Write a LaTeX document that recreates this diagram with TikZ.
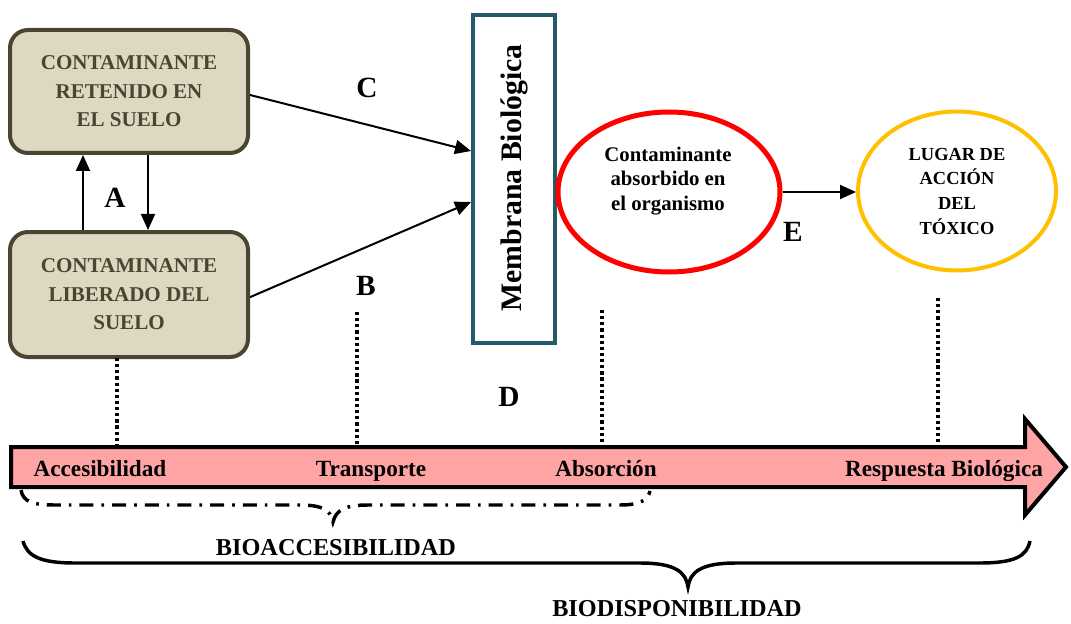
\documentclass[tikz,border=0pt]{standalone}
\usepackage{fontspec}
\setmainfont{Liberation Serif}
\usetikzlibrary{shapes.geometric,arrows.meta}
\definecolor{soilfill}{HTML}{DDD8C2}
\definecolor{soilline}{HTML}{4A4430}
\definecolor{membline}{HTML}{245A69}
\definecolor{tiltpink}{HTML}{FFA4A4}
\definecolor{sitegold}{HTML}{FFC000}
\newcommand{\fs}[2]{\fontsize{#1}{#2}\selectfont\bfseries}
\begin{document}
\begin{tikzpicture}[x=0.75pt,y=-0.75pt,
  soilbox/.style={draw=soilline,line width=3pt,fill=soilfill,rounded corners=13.5pt,
    minimum width=178.5pt,align=center,text=soilline,font=\fs{15.8}{21.4}},
  arr/.style={line width=1.5pt,-{Triangle[length=12pt,width=10.5pt]}},
  letter/.style={font=\fs{22}{26}},
  stage/.style={font=\fs{17.4}{20},anchor=base},
  dots/.style={line width=2.4pt,dash pattern=on 2.4pt off 2.2pt},
  caption/.style={font=\fs{18.2}{20}}]
\useasboundingbox (0,0) rectangle (1071,624);

% soil compartments
\node[soilbox,minimum height=92.25pt] (ret) at (129,91.5)
  {CONTAMINANTE\\RETENIDO EN\\EL SUELO};
\node[soilbox,minimum height=93.75pt] (lib) at (129,294.5)
  {CONTAMINANTE\\LIBERADO DEL\\SUELO};

% biological membrane
\node[draw=membline,line width=3pt,minimum width=61.5pt,minimum height=246pt,inner sep=0pt]
  (mem) at (514,179) {};
\node[rotate=90,font=\fs{22.3}{26}] (memtext) at (514,178) {Membrana Biológica};

% absorbed contaminant and site of action
\node[ellipse,draw=red,line width=3.75pt,minimum width=166.5pt,minimum height=120pt,inner sep=0pt]
  (abs) at (669,192) {};
\node[align=center,font=\fs{15.6}{18.4}] (abstext) at (668,181)
  {Contaminante\\absorbido en\\el organismo};
\node[ellipse,draw=sitegold,line width=3pt,minimum width=148.5pt,minimum height=119.25pt,
  inner sep=0pt,align=center,font=\fs{13.8}{18.5}] (site) at (957,191)
  {LUGAR DE\\ACCIÓN\\DEL\\TÓXICO};

% exchanges between compartments
\draw[arr] ([xshift=-34.5pt]lib.north) -- ([xshift=-34.5pt]ret.south);
\draw[arr] ([xshift=14.25pt]ret.south) -- ([xshift=14.25pt]lib.north);
\draw[arr] ([yshift=-2.6pt]ret.east) -- ([yshift=21pt]mem.west);
\draw[arr] ([yshift=-2pt]lib.east) -- ([yshift=-17.25pt]mem.west);
\draw[arr] (abs.east) -- (abs.east -| site.west);

\node[letter] (la) at (115,198) {A};
\node[letter] (lb) at (366,286) {B};
\node[letter] (lc) at (367,88) {C};
\node[letter] (ld) at (509,397) {D};
\node[letter] (le) at (793,232) {E};

% process arrow
\draw[line width=3pt,fill=tiltpink,line join=miter]
  (11,447) -- (1025,447) -- (1025,419) -- (1066,467) -- (1025,515) -- (1025,487) -- (11,487) -- cycle;
\node[stage] (acc) at (100,476) {Accesibilidad};
\node[stage] (tra) at (371,476) {Transporte};
\node[stage] (absn) at (606,476) {Absorción};
\node[stage] (res) at (944,476) {Respuesta Biológica};

% guide lines to the stages
\coordinate (g1a) at (117,358); \coordinate (g1b) at (117,445);
\coordinate (g2a) at (357,312); \coordinate (g2b) at (357,445);
\coordinate (g3a) at (602,310); \coordinate (g3b) at (602,445);
\coordinate (g4a) at (938,298); \coordinate (g4b) at (938,445);
\draw[dots] (g1a) -- (g1b);
\draw[dots] (g2a) -- (g2b);
\draw[dots] (g3a) -- (g3b);
\draw[dots] (g4a) -- (g4b);

% braces
\draw[line width=2.6pt,dash pattern=on 10.5pt off 6pt on 2pt off 6pt]
  (21,490) .. controls (23,502) and (33,505) .. (55,505) -- (300,505)
  .. controls (322,505) and (331,510) .. (333,522)
  .. controls (336,510) and (345,505) .. (368,505) -- (620,505)
  .. controls (640,505) and (648,500) .. (650,491);
\node[caption] (bioacc) at (336,548) {BIOACCESIBILIDAD};

\draw[line width=2.6pt]
  (23,541) .. controls (27,556) and (40,563) .. (75,563) -- (640,563)
  .. controls (675,563) and (686,572) .. (688,587)
  .. controls (690,572) and (701,563) .. (736,563) -- (980,563)
  .. controls (1015,563) and (1027,556) .. (1030,541);
\node[caption] (biodisp) at (677,609) {BIODISPONIBILIDAD};
\end{tikzpicture}
\end{document}
